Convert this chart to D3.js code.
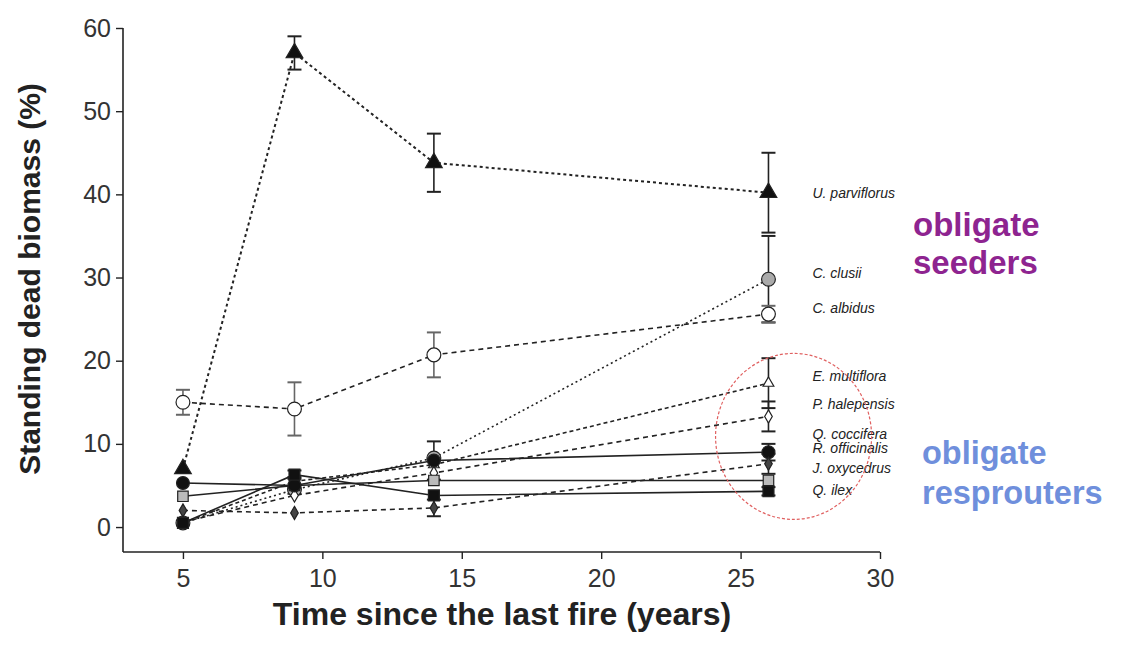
<!DOCTYPE html>
<html>
<head>
<meta charset="utf-8">
<script src="https://cdn.jsdelivr.net/npm/d3@7"></script>
<style>
  body { margin: 0; background: #fff; }
  svg { font-family: "Liberation Sans", Arial, sans-serif; }
</style>
</head>
<body>
<svg id="chart" width="1123" height="652"></svg>
<script>
// DATA
var years = [5, 9, 14, 26];
var species = ["U. parviflorus", "C. clusii", "C. albidus", "E. multiflora", "P. halepensis",
               "Q. coccifera", "R. officinalis", "J. oxycedrus", "Q. ilex"];
var deadU   = [7.0, 57.0, 43.8, 40.2];
var deadCc  = [0.5, 4.5, 8.3, 29.8];
var deadCa  = [15.0, 14.2, 20.7, 25.6];
var deadEm  = [0.5, 5.5, 7.5, 17.3];
var deadPh  = [0.6, 3.8, 6.5, 13.3];
var deadQc  = [3.7, 5.0, 5.6, 5.6];
var deadRo  = [5.3, 5.0, 8.0, 9.0];
var deadJo  = [2.0, 1.7, 2.3, 7.6];
var deadQi  = [0.5, 6.3, 3.8, 4.3];
// +/- error
var errU  = [0, 2.0, 3.5, 4.8];
var errCc = [0, 0, 0, 5.2];
var errCa = [1.5, 3.2, 2.7, 1.0];
var errEm = [0, 0, 0, 3.0];
var errPh = [0, 0, 0, 1.8];
var errQc = [0, 0, 0, 0];
var errRo = [0, 1.0, 2.3, 1.0];
var errJo = [0, 0, 1.0, 1.2];
var errQi = [0, 0.5, 0, 0.5];
// where the species names sit on the y axis (%)
var labelAt = [40.2, 30.6, 26.3, 18.2, 14.8, 11.2, 9.5, 7.1, 4.4];
var yTicks = [0, 10, 20, 30, 40, 50, 60];
var xTicks = [5, 10, 15, 20, 25, 30];

var values = [deadU, deadCc, deadCa, deadEm, deadPh, deadQc, deadRo, deadJo, deadQi];
var errors = [errU, errCc, errCa, errEm, errPh, errQc, errRo, errJo, errQi];
// marker / line look per species
var shapes = ["triangle", "circle", "circle", "triangle", "diamond", "square", "circle", "diamond", "square"];
var fills  = ["#111", "#aaa", "#fff", "#fff", "#fff", "#bbb", "#111", "#444", "#111"];
var sizes  = [120, 150, 150, 50, 50, 110, 130, 50, 120];
var dashes = ["3,3", "2,3", "5,4", "4,3", "5,4", null, null, "5,4", null];

var svg = d3.select("#chart");

var xScale = d3.scaleLinear().domain([2.85, 30]).range([123, 880]);
var yScale = d3.scaleLinear().domain([-3, 60]).range([552, 28]);

// axes
var xAxis = svg.append("g").attr("transform", "translate(0,552)")
  .call(d3.axisBottom(xScale).tickValues(xTicks).tickSize(7).tickPadding(10).tickSizeOuter(0));
var yAxis = svg.append("g").attr("transform", "translate(123,0)")
  .call(d3.axisLeft(yScale).tickValues(yTicks).tickSize(7).tickPadding(5).tickSizeOuter(0));

[xAxis, yAxis].forEach(a => {
  a.select(".domain").attr("stroke", "#222").attr("stroke-width", 1.6);
  a.selectAll(".tick line").attr("stroke", "#222").attr("stroke-width", 1.4);
  a.selectAll(".tick text").attr("fill", "#333").style("font-size", "25px");
});
// y axis line runs down to the corner
yAxis.select(".domain").attr("d", "M0," + yScale(60) + "V552");
xAxis.select(".domain").attr("d", "M123,0H" + xScale(30));

svg.append("text")
  .attr("x", 502).attr("y", 625)
  .attr("text-anchor", "middle")
  .style("font-size", "32px").style("font-weight", "bold").attr("fill", "#222")
  .text("Time since the last fire (years)");

svg.append("text")
  .attr("transform", "translate(40,279) rotate(-90)")
  .attr("text-anchor", "middle")
  .style("font-size", "30px").style("font-weight", "bold").attr("fill", "#222")
  .text("Standing dead biomass (%)");

var line = d3.line().x(d => xScale(d[0])).y(d => yScale(d[1]));

var symbolType = {
  triangle: d3.symbolTriangle, circle: d3.symbolCircle,
  square: d3.symbolSquare, diamond: d3.symbolDiamond
};

// lines
species.forEach((s, i) => {
  var pts = years.map((yr, j) => [yr, values[i][j]]);
  svg.append("path")
    .attr("d", line(pts))
    .attr("fill", "none")
    .attr("stroke", "#222")
    .attr("stroke-width", i == 0 ? 2 : 1.6)
    .attr("stroke-dasharray", dashes[i]);
});

// error bars
species.forEach((s, i) => {
  var g = svg.append("g");
  years.forEach((yr, j) => {
    var e = errors[i][j];
    if (!e) return;
    var cx = xScale(yr), lo = yScale(values[i][j] - e), hi = yScale(values[i][j] + e);
    var col = i == 2 ? "#666" : "#222";
    g.append("line").attr("x1", cx).attr("x2", cx).attr("y1", lo).attr("y2", hi)
      .attr("stroke", col).attr("stroke-width", 1.6);
    [lo, hi].forEach(yy => g.append("line")
      .attr("x1", cx - 7).attr("x2", cx + 7).attr("y1", yy).attr("y2", yy)
      .attr("stroke", col).attr("stroke-width", 2));
  });
});

// markers
species.forEach((s, i) => {
  svg.append("g").selectAll("path")
    .data(years.map((yr, j) => [yr, values[i][j]]))
    .join("path")
    .attr("transform", d => "translate(" + xScale(d[0]) + "," + yScale(d[1]) + ")")
    .attr("d", d3.symbol().type(symbolType[shapes[i]]).size(sizes[i]))
    .attr("fill", fills[i])
    .attr("stroke", "#222")
    .attr("stroke-width", 1.2);
});

// species names
svg.append("g").selectAll("text")
  .data(species)
  .join("text")
  .attr("x", xScale(26) + 44)
  .attr("y", (d, i) => yScale(labelAt[i]) + 5)
  .style("font-size", "14px").style("font-style", "italic")
  .attr("fill", "#222")
  .text(d => d);

// highlight ring round the resprouters
svg.append("ellipse")
  .attr("cx", xScale(26.9)).attr("cy", yScale(10.9))
  .attr("rx", 78).attr("ry", 83)
  .attr("fill", "none").attr("stroke", "#e06060")
  .attr("stroke-width", 1.2).attr("stroke-dasharray", "3,2");

// group notes
var notes = [
  { lines: ["obligate", "seeders"], color: "#8e2490", x: 913, y: 236, size: 33, gap: 38 },
  { lines: ["obligate", "resprouters"], color: "#6f8fdc", x: 922, y: 464, size: 32.5, gap: 40 }
];
notes.forEach(n => {
  var t = svg.append("text").attr("x", n.x).attr("y", n.y)
    .style("font-size", n.size + "px").style("font-weight", "bold").attr("fill", n.color);
  n.lines.forEach((l, k) => t.append("tspan").attr("x", n.x).attr("dy", k ? n.gap : 0).text(l));
});
</script>
</body>
</html>
